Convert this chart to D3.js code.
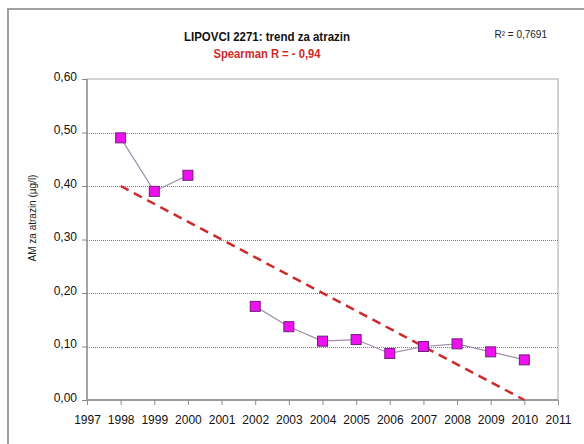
<!DOCTYPE html>
<html>
<head>
<meta charset="utf-8">
<script src="https://cdn.jsdelivr.net/npm/d3@7"></script>
<style>
  html, body { margin: 0; padding: 0; background: #fff; }
  svg { display: block; font-family: "Liberation Sans", Arial, sans-serif; }
</style>
</head>
<body>
<svg id="chart" width="584" height="444"></svg>
<script>
// Annual mean atrazine concentration, Lipovci 2271
const years = [1998, 1999, 2000, 2001, 2002, 2003, 2004, 2005, 2006, 2007, 2008, 2009, 2010];
const values = [0.49, 0.39, 0.42, null, 0.175, 0.137, 0.11, 0.113, 0.087, 0.10, 0.105, 0.09, 0.075];
// Linear trend end points
const trendYears = [1998, 2010];
const trendValues = [0.40, 0.0];
const xTicks = [1997, 1998, 1999, 2000, 2001, 2002, 2003, 2004, 2005, 2006, 2007, 2008, 2009, 2010, 2011];
const yTicks = [0, 0.1, 0.2, 0.3, 0.4, 0.5, 0.6];

const svg = d3.select("#chart");
const fmt = v => d3.format(".2f")(v).replace(".", ",");

// outer frame
svg.append("rect").attr("x", 8).attr("y", 9).attr("width", 600).attr("height", 460)
  .attr("fill", "none").attr("stroke", "#a0a0a0").attr("stroke-width", 2);

const plotL = 87, plotR = 558, plotT = 79, plotB = 400;
const x = d3.scaleLinear().domain([1997, 2011]).range([plotL, plotR]);
const y = d3.scaleLinear().domain([0, 0.6]).range([plotB, plotT]);

// plot area border
svg.append("rect").attr("x", plotL).attr("y", plotT).attr("width", plotR - plotL).attr("height", plotB - plotT)
  .attr("fill", "none").attr("stroke", "#a8a8a8").attr("stroke-width", 1);

// gridlines
svg.append("g").selectAll("line").data(yTicks.filter(d => d > 0 && d < 0.6)).join("line")
  .attr("x1", plotL).attr("x2", plotR)
  .attr("y1", d => Math.round(y(d)) + 0.5).attr("y2", d => Math.round(y(d)) + 0.5)
  .attr("stroke", "#7a7a7a").attr("stroke-width", 1).attr("stroke-dasharray", "1,1");

// axes
const yAxis = svg.append("g").attr("transform", `translate(${plotL},0)`)
  .call(d3.axisLeft(y).tickValues(yTicks).tickFormat(fmt).tickSize(5).tickPadding(5));
const xAxis = svg.append("g").attr("transform", `translate(0,${plotB})`)
  .call(d3.axisBottom(x).tickValues(xTicks).tickFormat(d3.format("d")).tickSize(5).tickPadding(10));
[yAxis, xAxis].forEach(g => {
  g.select(".domain").attr("stroke", "#8a8a8a").attr("stroke-width", 1.3);
  g.selectAll(".tick line").attr("stroke", "#8a8a8a");
  g.selectAll("text").attr("font-size", 12).attr("fill", "#111")
    .attr("font-family", "'Liberation Sans', Arial, sans-serif");
});
yAxis.selectAll("text").attr("dy", "0.1em");
xAxis.select(".domain").attr("d", `M${plotL},0H${plotR}`);
yAxis.select(".domain").attr("d", `M0,${plotB}V${plotT}`);

// trend line
svg.append("line")
  .attr("x1", x(trendYears[0])).attr("y1", y(trendValues[0]))
  .attr("x2", x(trendYears[1])).attr("y2", y(trendValues[1]))
  .attr("stroke", "#cc2a2a").attr("stroke-width", 2.5).attr("stroke-dasharray", "9,6");

// data line (broken where a year is missing)
const pts = years.map((yr, i) => ({ yr, v: values[i] }));
svg.append("path").datum(pts)
  .attr("d", d3.line().defined(d => d.v !== null).x(d => x(d.yr)).y(d => y(d.v)))
  .attr("fill", "none").attr("stroke", "#a08ca8").attr("stroke-width", 1.2);

// markers
svg.append("g").selectAll("rect").data(pts.filter(d => d.v !== null)).join("rect")
  .attr("x", d => x(d.yr) - 5).attr("y", d => y(d.v) - 5)
  .attr("width", 10).attr("height", 10)
  .attr("fill", "#ee10ee").attr("stroke", "#70207a").attr("stroke-width", 1);

// titles
svg.append("text").attr("x", 267).attr("y", 41).attr("text-anchor", "middle")
  .attr("font-size", 12).attr("font-weight", "bold").attr("fill", "#111")
  .attr("textLength", 166).attr("lengthAdjust", "spacingAndGlyphs")
  .text("LIPOVCI 2271: trend za atrazin");
svg.append("text").attr("x", 267).attr("y", 58).attr("text-anchor", "middle")
  .attr("font-size", 12).attr("font-weight", "bold").attr("fill", "#cc2a2a")
  .attr("textLength", 107).attr("lengthAdjust", "spacingAndGlyphs")
  .text("Spearman R = - 0,94");
svg.append("text").attr("x", 547).attr("y", 38).attr("text-anchor", "end")
  .attr("font-size", 10).attr("fill", "#222")
  .text("R² = 0,7691");

// y axis title
svg.append("text").attr("transform", `translate(36,218) rotate(-90)`)
  .attr("text-anchor", "middle").attr("font-size", 10).attr("fill", "#222")
  .text("AM za atrazin (µg/l)");
</script>
</body>
</html>
